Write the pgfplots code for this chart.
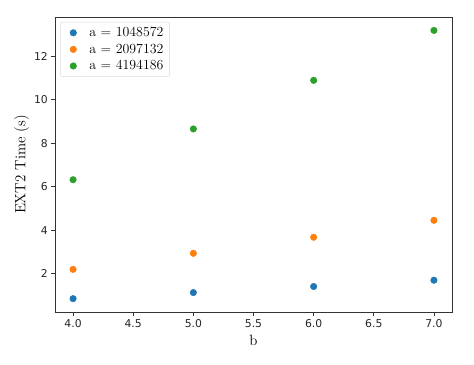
\documentclass[border=0pt]{standalone}
\usepackage{fontspec}
\usepackage{pgfplots}
\pgfplotsset{compat=1.18}
\newfontfamily\tickfont{DejaVu Sans}
\definecolor{c1}{HTML}{1F77B4}
\definecolor{c2}{HTML}{FF7F0E}
\definecolor{c3}{HTML}{2CA02C}
\begin{document}
\begin{tikzpicture}
\begin{axis}[
  scale only axis,
  width=386pt, height=287pt,
  xmin=3.85, xmax=7.15,
  ymin=0.22, ymax=13.82,
  xtick={4,4.5,5,5.5,6,6.5,7},
  ytick={2,4,6,8,10,12},
  xticklabel style={/pgf/number format/.cd,fixed,fixed zerofill,precision=1},
  /pgf/number format/assume math mode=true,
  tick label style={font=\tickfont\fontsize{10.5}{12}\selectfont, text=black!85},
  tick align=outside,
  tick pos=left,
  major tick length=3.5pt,
  axis line style={black!80, line width=0.8pt},
  every tick/.style={black!80, line width=0.8pt},
  xlabel={b},
  ylabel={EXT\oldstylenums{2} Time (s)},
  label style={font=\fontsize{14.5}{16}\selectfont},
  xlabel style={yshift=-1pt},
  ylabel style={yshift=-2pt},
  legend style={at={(0.013,0.983)}, anchor=north west, draw=black!15, rounded corners=2pt,
    font=\fontsize{13.5}{15}\selectfont, row sep=1.5pt, inner xsep=4pt, inner ysep=3pt},
  legend cell align=left,
  legend image code/.code={\path[draw=none] (0,0) -- (0.78cm,0); \path[#1, draw=none] plot[only marks] coordinates {(0.3cm,0cm)};},
]
\addplot[only marks, mark=*, mark size=3.2pt, color=c1] coordinates {(4,0.84) (5,1.12) (6,1.40) (7,1.69)};
\addlegendentry{a = \oldstylenums{1048572}}
\addplot[only marks, mark=*, mark size=3.2pt, color=c2] coordinates {(4,2.19) (5,2.93) (6,3.67) (7,4.45)};
\addlegendentry{a = \oldstylenums{2097132}}
\addplot[only marks, mark=*, mark size=3.2pt, color=c3] coordinates {(4,6.32) (5,8.66) (6,10.90) (7,13.20)};
\addlegendentry{a = \oldstylenums{4194186}}
\end{axis}
\path (current axis.south west) ++(-53.5pt,-50.6pt);
\path (current axis.north east) ++(21.4pt,16.5pt);
\end{tikzpicture}
\end{document}
